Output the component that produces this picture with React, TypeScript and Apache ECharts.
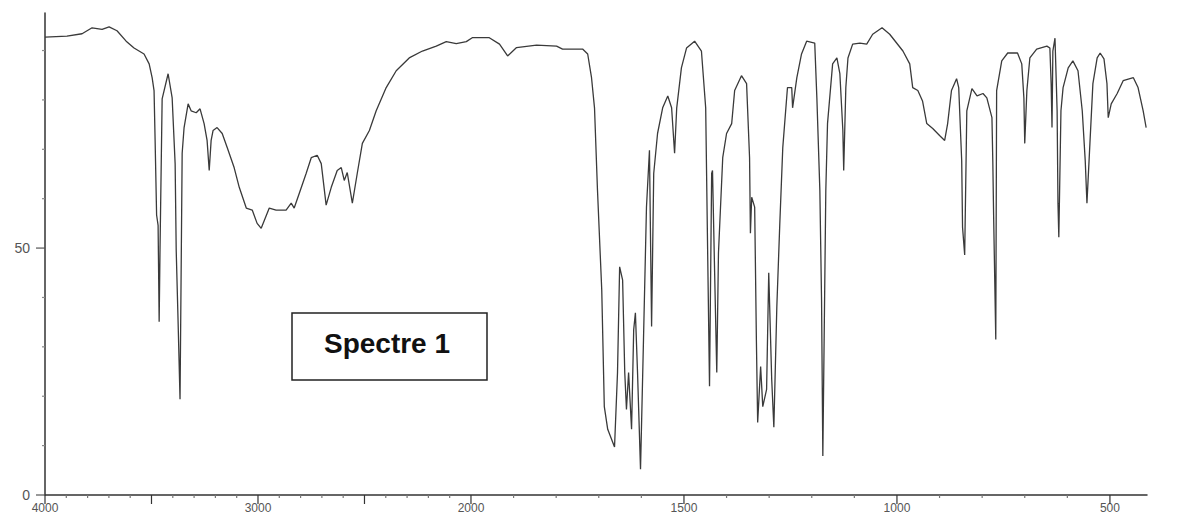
import React, { useEffect, useRef } from "react";
import * as echarts from "echarts";

// Wavenumber (cm-1) and transmittance (%)
const wavenumbers = [
  4000, 3897, 3826, 3779, 3732, 3699, 3662, 3619, 3582, 3535, 3511, 3497, 3488, 3483, 3476, 3469, 3464, 3460, 3450, 3422,
  3403, 3389, 3384, 3375, 3366, 3356, 3347, 3328, 3314, 3290, 3272, 3253, 3239, 3229, 3220, 3211, 3192, 3168, 3145, 3112,
  3088, 3055, 3027, 3004, 2985, 2947, 2915, 2868, 2844, 2830, 2806, 2774, 2750, 2722, 2703, 2680, 2656, 2628, 2609, 2595,
  2581, 2557, 2534, 2510, 2477, 2445, 2398, 2351, 2290, 2228, 2163, 2116, 2069, 2022, 1997, 1957, 1933, 1914, 1893, 1846,
  1799, 1785, 1738, 1726, 1717, 1710, 1703, 1693, 1687, 1679, 1663, 1656, 1651, 1644, 1639, 1635, 1630, 1623, 1618, 1614,
  1609, 1602, 1595, 1588, 1581, 1576, 1571, 1562, 1550, 1538, 1529, 1522, 1517, 1506, 1494, 1475, 1459, 1449, 1445, 1440,
  1435, 1433, 1428, 1423, 1419, 1409, 1400, 1388, 1381, 1365, 1353, 1346, 1344, 1341, 1334, 1330, 1327, 1320, 1315, 1306,
  1301, 1294, 1289, 1282, 1275, 1268, 1257, 1247, 1245, 1235, 1224, 1212, 1193, 1188, 1181, 1177, 1174, 1167, 1163, 1151,
  1141, 1134, 1127, 1125, 1120, 1115, 1104, 1087, 1071, 1057, 1035, 1017, 986, 970, 963, 951, 940, 930, 916, 900,
  888, 881, 872, 860, 855, 848, 846, 841, 836, 824, 812, 798, 789, 777, 775, 773, 768, 766, 754, 740,
  717, 707, 702, 700, 695, 688, 672, 648, 641, 638, 636, 634, 629, 624, 622, 620, 615, 610, 598, 587,
  575, 565, 558, 554, 547, 540, 530, 523, 514, 507, 504, 497, 483, 469, 445, 434, 422, 415,
];
const transmittance = [
  92.7, 92.9, 93.4, 94.6, 94.3, 94.8, 94.0, 91.9, 90.5, 89.3, 87.3, 84.5, 81.9, 71.8, 56.7, 54.6, 35.1, 49.6, 80.2, 85.3,
  80.4, 67.1, 49.6, 34.9, 19.4, 69.2, 74.4, 79.2, 77.8, 77.4, 78.2, 75.2, 71.8, 65.7, 71.8, 73.8, 74.4, 73.2, 70.4, 66.3,
  62.3, 58.1, 57.7, 55.0, 54.0, 58.1, 57.7, 57.7, 59.1, 58.1, 61.1, 65.1, 68.3, 68.8, 67.1, 58.7, 62.3, 65.7, 66.3, 63.7,
  65.3, 59.1, 65.1, 71.2, 73.8, 77.8, 82.5, 85.9, 88.5, 89.9, 90.9, 91.8, 91.4, 91.8, 92.6, 92.6, 91.3, 88.9, 90.6, 91.1,
  90.9, 90.3, 90.3, 89.3, 84.5, 78.4, 61.7, 41.5, 17.9, 13.3, 9.7, 24.8, 46.2, 43.5, 24.8, 17.3, 24.8, 13.3, 33.5, 36.9,
  24.8, 5.2, 31.5, 58.3, 69.8, 34.1, 65.1, 73.2, 78.4, 80.8, 78.4, 69.2, 78.4, 86.5, 90.5, 91.9, 89.9, 78.4, 53.0, 22.0,
  65.1, 65.7, 45.0, 24.8, 49.0, 68.3, 73.2, 75.2, 81.9, 84.9, 83.3, 68.3, 53.0, 60.3, 58.3, 31.5, 14.7, 26.0, 17.9, 21.4,
  45.0, 23.4, 13.7, 38.1, 55.0, 70.4, 82.5, 82.5, 78.4, 84.5, 89.3, 91.9, 91.5, 80.4, 61.7, 39.5, 7.9, 61.7, 75.2, 87.3,
  88.5, 85.3, 73.8, 65.7, 82.5, 88.5, 91.3, 91.5, 91.3, 93.3, 94.6, 93.3, 89.9, 87.3, 82.5, 81.9, 79.8, 75.2, 74.2, 72.8,
  71.8, 75.2, 81.9, 84.3, 82.5, 67.7, 54.2, 48.6, 77.8, 82.3, 80.8, 81.3, 80.4, 76.4, 67.7, 56.3, 31.5, 81.9, 87.9, 89.5,
  89.5, 87.3, 80.4, 71.2, 81.9, 88.5, 90.3, 90.9, 90.5, 83.3, 74.4, 89.9, 92.5, 77.8, 59.1, 52.2, 77.8, 82.5, 86.5, 87.9,
  85.9, 77.8, 67.7, 59.1, 71.2, 83.3, 88.5, 89.5, 88.3, 83.3, 76.4, 79.2, 81.3, 83.9, 84.5, 82.5, 77.8, 74.4,
];

const majorTicks = [4000, 3500, 3000, 2500, 2000, 1500, 1000, 500];
const minorTicks = [
  3900, 3800, 3700, 3600, 3400, 3300, 3200, 3100, 2900, 2800, 2700, 2600, 2400, 2300, 2200, 2100,
  1900, 1800, 1700, 1600, 1400, 1300, 1200, 1100, 900, 800, 700, 600,
];
const xLabels = [4000, 3000, 2000, 1500, 1000, 500];
const yMinorTicks = [10, 20, 30, 40, 60, 70, 80, 90];
const yMajorTicks = [0, 50];
const yLabels = [0, 50];
const title = "Spectre 1";

const X_END = 413;
const Y_MAX = 97.6;

// Dual-scale IR axis: 4000-2000 at one scale, below 2000 at twice that scale
const toP = (w: number) => (w >= 2000 ? 4000 - w : 2000 + (2000 - w) * 2);
const fromP = (p: number) => (p <= 2000 ? 4000 - p : 2000 - (p - 2000) / 2);

export default function App() {
  const ref = useRef<HTMLDivElement>(null);
  useEffect(() => {
    if (!ref.current) return;
    const chart = echarts.init(ref.current, null, { renderer: "svg" });
    const axisColor = "#333";
    const labelFont = '"Liberation Sans", Arial, sans-serif';
    const data = wavenumbers.map((w, i) => [toP(w), transmittance[i]]);
    const xTickData = majorTicks
      .map((w) => [toP(w), 9])
      .concat(minorTicks.map((w) => [toP(w), 3]));
    const yTickData = yMajorTicks.map((v) => [v, 9]).concat(yMinorTicks.map((v) => [v, 3]));
    chart.setOption({
      animation: false,
      backgroundColor: "#ffffff",
      grid: { left: 45, right: 31, top: 13, bottom: 20, containLabel: false, outerBoundsMode: "none" },
      xAxis: {
        type: "value",
        position: "bottom",
        min: 0,
        max: toP(X_END),
        axisLine: { show: true, onZero: false, lineStyle: { color: axisColor, width: 1.5 } },
        axisTick: { show: false },
        axisLabel: {
          show: true,
          customValues: xLabels.map(toP),
          formatter: (v: number) => String(Math.round(fromP(v))),
          margin: 7,
          fontSize: 12,
          lineHeight: 12,
          color: "#555",
          fontFamily: labelFont,
        },
        splitLine: { show: false },
      },
      yAxis: {
        type: "value",
        position: "left",
        min: 0,
        max: Y_MAX,
        axisLine: { show: true, onZero: false, lineStyle: { color: axisColor, width: 1.5 } },
        axisTick: { show: false },
        axisLabel: {
          show: true,
          customValues: yLabels,
          margin: 15,
          fontSize: 14,
          color: "#555",
          fontFamily: labelFont,
        },
        splitLine: { show: false },
      },
      series: [
        {
          type: "line",
          data,
          showSymbol: false,
          symbol: "none",
          smooth: false,
          lineStyle: { color: "#3a3a3a", width: 1.3 },
          silent: true,
          z: 3,
        },
        {
          type: "custom",
          clip: false,
          silent: true,
          data: xTickData,
          renderItem: (_params: any, api: any) => {
            const pt = api.coord([api.value(0), 0]);
            const len = api.value(1);
            return {
              type: "line",
              shape: { x1: pt[0], y1: pt[1], x2: pt[0], y2: pt[1] + len },
              style: { stroke: len > 5 ? "#333" : "#777", lineWidth: 1.2 },
            };
          },
          z: 2,
        },
        {
          type: "custom",
          clip: false,
          silent: true,
          data: yTickData.map((d) => [0, d[0], d[1]]),
          renderItem: (_params: any, api: any) => {
            const pt = api.coord([0, api.value(1)]);
            const len = api.value(2);
            return {
              type: "line",
              shape: { x1: pt[0], y1: pt[1], x2: pt[0] - len, y2: pt[1] },
              style: { stroke: len > 5 ? "#555" : "#888", lineWidth: 1.2 },
            };
          },
          z: 2,
        },
      ],
      graphic: [
        {
          type: "rect",
          shape: { x: 292, y: 313, width: 195, height: 67 },
          style: { fill: "#ffffff", stroke: "#222", lineWidth: 1.5 },
          z: 10,
        },
        {
          type: "text",
          x: 387,
          y: 343,
          style: {
            text: title,
            font: 'bold 28px "Liberation Sans", Arial, sans-serif',
            fill: "#111",
            textAlign: "center",
            textVerticalAlign: "middle",
          },
          z: 11,
        },
      ],
    });
    return () => chart.dispose();
  }, []);
  return (
    <div
      ref={ref}
      style={{ position: "fixed", left: 0, top: 0, width: 1178, height: 515, background: "#fff" }}
    />
  );
}
